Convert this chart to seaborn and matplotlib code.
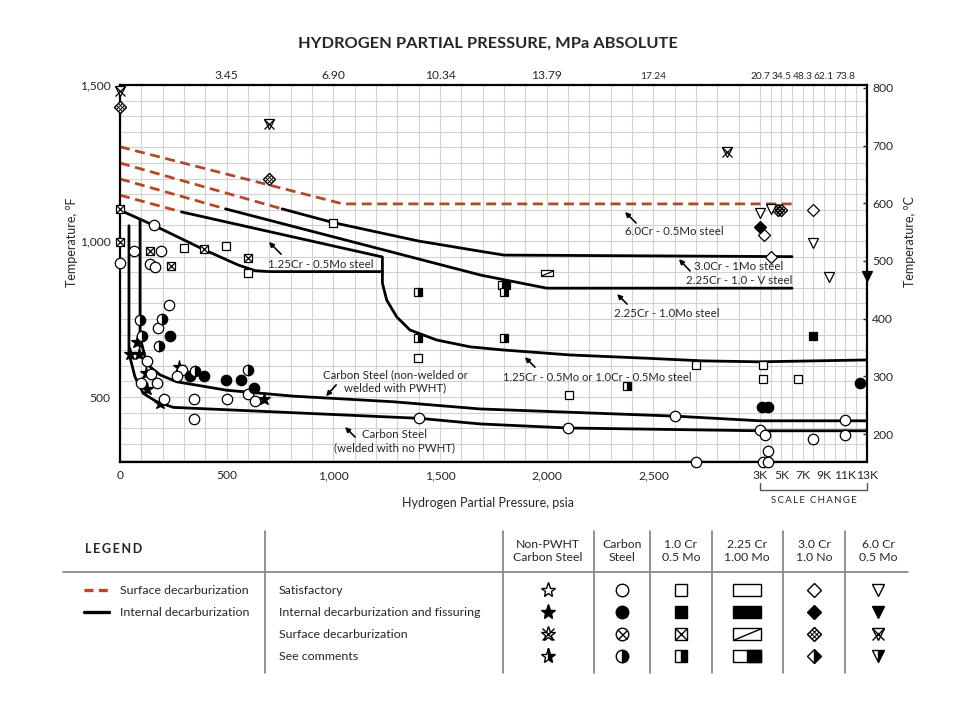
import numpy as np
import matplotlib
matplotlib.use("Agg")
import matplotlib.pyplot as plt
import seaborn as sns
from matplotlib.path import Path

# ---------------- curves: hydrogen partial pressure (psia) vs temperature (F)
surf1_psi = [0, 1045, 6000]
surf1_f = [1302, 1119, 1119]
surf2_psi = [0, 760]
surf2_f = [1250, 1103]
surf3_psi = [0, 495]
surf3_f = [1199, 1103]
surf4_psi = [0, 290]
surf4_f = [1147, 1093]

cr3_psi = [760, 1000, 1400, 1700, 1800, 6000]
cr3_f = [1103, 1059, 1000, 966, 955, 950]
cr225_psi = [495, 1690, 2000, 6000]
cr225_f = [1103, 891, 849, 849]
cr125_psi = [290, 1230, 1230, 1250, 1297, 1359, 1484, 1641, 1795, 2109, 2484, 2733, 3000, 13000]
cr125_f = [1093, 949, 865, 811, 757, 715, 683, 661, 651, 635, 624, 616, 613, 619]
cr1_psi = [0, 159, 398, 555, 633, 700, 1230]
cr1_f = [1099, 1050, 971, 923, 905, 902, 902]
cs_pwht_psi = [94, 94, 117, 141, 188, 266, 500, 812, 1281, 1688, 2602, 3000, 13000]
cs_pwht_f = [1067, 693, 629, 597, 571, 549, 522, 503, 485, 462, 439, 424, 424]
cs_weld_psi = [42, 42, 70, 109, 172, 250, 1402, 1688, 2100, 3000, 13000]
cs_weld_f = [1049, 641, 565, 512, 485, 467, 432, 414, 401, 392, 392]

# ---------------- data points
star_int_psi = [81, 47, 91, 120, 128, 188, 277, 675]
star_int_f = [677, 638, 638, 576, 526, 480, 595, 494]

circ_ok_psi = [0, 159, 66, 191, 141, 164, 231, 180, 128, 145, 97, 175, 205, 289, 266, 598, 634,
               345, 502, 347, 1402, 2100, 2602, 2699, 3000, 3250, 3470, 3720, 3720, 8000, 11000, 11000]
circ_ok_f = [930, 1050, 969, 969, 926, 916, 796, 720, 615, 573, 544, 546, 494, 587, 567, 511, 488,
             494, 494, 431, 432, 401, 439, 292, 396, 292, 378, 327, 292, 365, 426, 379]
circ_int_psi = [234, 328, 394, 497, 567, 630, 3220, 3780, 12380]
circ_int_f = [697, 567, 567, 555, 555, 529, 469, 469, 546]
circ_cmt_psi = [94, 198, 105, 184, 352, 598]
circ_cmt_f = [747, 749, 696, 664, 584, 587]

sq_ok_psi = [298, 497, 598, 998, 1398, 1789, 2103, 2700, 3300, 3300, 6600]
sq_ok_f = [977, 985, 898, 1059, 624, 860, 506, 603, 603, 559, 559]
sq_int_psi = [1809, 8000]
sq_int_f = [860, 697]
sq_surf_psi = [0, 0, 141, 237, 394, 598]
sq_surf_f = [1102, 998, 969, 921, 974, 947]
sq_cmt_psi = [1398, 1398, 1800, 1800, 2375]
sq_cmt_f = [836, 690, 836, 690, 536]

rect_surf_psi = [2000]
rect_surf_f = [898]

dia_ok_psi = [3400, 4000, 8000]
dia_ok_f = [1019, 948, 1099]
dia_int_psi = [3000]
dia_int_f = [1046]
dia_surf_psi = [0, 700, 4700, 5000]
dia_surf_f = [1430, 1198, 1099, 1099]

tri_ok_psi = [3000, 4000, 8000, 9500]
tri_ok_f = [1091, 1102, 993, 886]
tri_int_psi = [13000]
tri_int_f = [889]
tri_surf_psi = [0, 700, 2845]
tri_surf_f = [1482, 1374, 1284]

# ---------------- axis labels
x_ticks = [0, 500, 1000, 1500, 2000, 2500, 3000, 5000, 7000, 9000, 11000, 13000]
x_labels = ['0', '500', '1,000', '1,500', '2,000', '2,500', '3K', '5K', '7K', '9K', '11K', '13K']
top_ticks = [500, 1000, 1500, 2000, 2500, 3000, 5000, 7000, 9000, 11000]
top_labels = ['3.45', '6.90', '10.34', '13.79', '17.24', '20.7', '34.5', '48.3', '62.1', '73.8']
y_ticks = [500, 1000, 1500]
y_labels = ['500', '1,000', '1,500']
c_ticks = [200, 300, 400, 500, 600, 700, 800]

leg_cols = ['Non-PWHT\nCarbon Steel', 'Carbon\nSteel', '1.0 Cr\n0.5 Mo', '2.25 Cr\n1.00 Mo',
            '3.0 Cr\n1.0 No', '6.0 Cr\n0.5 Mo']
leg_shapes = ['star', 'circle', 'square', 'rect', 'diamond', 'tri']
leg_rows = ['Satisfactory', 'Internal decarburization and fissuring', 'Surface decarburization',
            'See comments']
leg_status = ['open', 'filled', 'surface', 'comments']

RED = '#b4492a'


def fwd(p):
    p = np.asarray(p, dtype=float)
    return np.where(p <= 3000, p, 3000 + (p - 3000) / 20.0)


def inv(u):
    u = np.asarray(u, dtype=float)
    return np.where(u <= 3000, u, 3000 + (u - 3000) * 20.0)


HATCH = Path([(0, 1), (1, 0), (0, -1), (-1, 0), (0, 1),
              (-2/3, -1/3), (1/3, 2/3), (-1/3, -2/3), (2/3, 1/3),
              (-2/3, 1/3), (1/3, -2/3), (-1/3, 2/3), (2/3, -1/3)],
             [Path.MOVETO, Path.LINETO, Path.LINETO, Path.LINETO, Path.LINETO,
              Path.MOVETO, Path.LINETO, Path.MOVETO, Path.LINETO,
              Path.MOVETO, Path.LINETO, Path.MOVETO, Path.LINETO])
RECT = Path([(-2.4, -1), (2.4, -1), (2.4, 1), (-2.4, 1), (-2.4, -1)], closed=True)
RECT_R = Path([(0, -1), (2.4, -1), (2.4, 1), (0, 1), (0, -1)], closed=True)
RECT_D = Path([(-2.4, -1), (2.4, 1)], [Path.MOVETO, Path.LINETO])
BASE = {'star': '*', 'circle': 'o', 'square': 's', 'diamond': 'D', 'tri': 'v'}
XSIZE = {'star': 0.85, 'circle': 0.72, 'square': 1.0, 'tri': 1.0}


def draw(a, xs, ys, shape, status, ms, mew=0.9):
    kw = dict(linestyle='none', markeredgecolor='black', clip_on=False, zorder=6)
    if shape == 'rect':
        a.plot(xs, ys, marker=RECT, ms=ms, mew=mew, mfc='black' if status == 'filled' else 'white', **kw)
        if status == 'surface':
            a.plot(xs, ys, marker=RECT_D, ms=ms, mew=mew, mfc='none', **kw)
        if status == 'comments':
            a.plot(xs, ys, marker=RECT_R, ms=ms, mew=mew, mfc='black', **kw)
        return
    m = BASE[shape]
    if status == 'comments':
        a.plot(xs, ys, marker=m, ms=ms, mew=mew, fillstyle='right', mfc='black', mfcalt='white', **kw)
    else:
        a.plot(xs, ys, marker=m, ms=ms, mew=mew, mfc='black' if status == 'filled' else 'white', **kw)
    if status == 'surface':
        if shape == 'diamond':
            a.plot(xs, ys, marker=HATCH, ms=ms * 1.414, mew=mew * 0.7, mfc='none', **kw)
        else:
            a.plot(xs, ys, marker='x', ms=ms * XSIZE[shape], mew=mew, **kw)


sns.set_style("white")
plt.rcParams['font.family'] = ['Lato', 'DejaVu Sans']

W, H = 977, 707
fig = plt.figure(figsize=(W / 100, H / 100), dpi=100)

# legend area drawn in pixel coordinates
ax_leg = fig.add_axes([0, 0, 1, 1])
ax_leg.set_xlim(0, W)
ax_leg.set_ylim(H, 0)
ax_leg.axis('off')

ax = fig.add_axes([120 / W, 1 - 462 / H, (866.7 - 120) / W, (462 - 85) / H])
ax.set_xscale('function', functions=(fwd, inv))
ax.set_xlim(0, 13000)
ax.set_ylim(292, 1500)

ax.set_xticks(x_ticks)
ax.set_xticklabels(x_labels)
ax.set_xticks(list(range(0, 3001, 100)) + list(range(4000, 13001, 1000)), minor=True)
ax.set_yticks(y_ticks)
ax.set_yticklabels(y_labels)
ax.set_yticks(list(range(300, 1501, 50)), minor=True)
ax.grid(which='both', color='#d2d2d2', lw=0.8)
ax.set_axisbelow(True)
ax.tick_params(which='both', length=0, labelsize=8.7)
ax.tick_params(axis='x', pad=6)
ax.tick_params(axis='y', pad=7)
for s in ax.spines.values():
    s.set_linewidth(1.6)
    s.set_color('black')

# curves
dash = (0, (3.6, 2.0))
for px, py in [(surf1_psi, surf1_f), (surf2_psi, surf2_f), (surf3_psi, surf3_f), (surf4_psi, surf4_f)]:
    sns.lineplot(x=px, y=py, ax=ax, sort=False, estimator=None, color=RED, lw=2.0, linestyle=dash)
for px, py in [(cr3_psi, cr3_f), (cr225_psi, cr225_f), (cr125_psi, cr125_f), (cr1_psi, cr1_f),
               (cs_pwht_psi, cs_pwht_f), (cs_weld_psi, cs_weld_f)]:
    sns.lineplot(x=px, y=py, ax=ax, sort=False, estimator=None, color='black', lw=2.0)
ax.set_xlabel('')
ax.set_ylabel('')

# points
draw(ax, star_int_psi, star_int_f, 'star', 'filled', 9.5)
draw(ax, circ_ok_psi, circ_ok_f, 'circle', 'open', 7.5)
draw(ax, circ_int_psi, circ_int_f, 'circle', 'filled', 7.5)
draw(ax, circ_cmt_psi, circ_cmt_f, 'circle', 'comments', 7.5)
draw(ax, sq_ok_psi, sq_ok_f, 'square', 'open', 6.3)
draw(ax, sq_int_psi, sq_int_f, 'square', 'filled', 6.3)
draw(ax, sq_surf_psi, sq_surf_f, 'square', 'surface', 6.3)
draw(ax, sq_cmt_psi, sq_cmt_f, 'square', 'comments', 6.3)
draw(ax, rect_surf_psi, rect_surf_f, 'rect', 'surface', 9)
draw(ax, dia_ok_psi, dia_ok_f, 'diamond', 'open', 6)
draw(ax, dia_int_psi, dia_int_f, 'diamond', 'filled', 6)
draw(ax, dia_surf_psi, dia_surf_f, 'diamond', 'surface', 6.2)
draw(ax, tri_ok_psi, tri_ok_f, 'tri', 'open', 7.5)
draw(ax, tri_int_psi, tri_int_f, 'tri', 'filled', 7.5)
draw(ax, tri_surf_psi, tri_surf_f, 'tri', 'surface', 7.5)

# curve labels
fs = 8.3
arrow = dict(arrowstyle='-|>', color='black', lw=1.2, mutation_scale=7, shrinkA=0, shrinkB=0)
ax.text(694, 926, '1.25Cr - 0.5Mo steel', fontsize=fs, va='center')
ax.annotate('', xy=(698, 997), xytext=(755, 958), arrowprops=arrow)
ax.text(2367, 1029, '6.0Cr - 0.5Mo steel', fontsize=fs, va='center')
ax.annotate('', xy=(2367, 1093), xytext=(2419, 1058), arrowprops=arrow)
ax.text(2691, 917, '3.0Cr - 1Mo steel', fontsize=fs, va='center')
ax.annotate('', xy=(2620, 942), xytext=(2672, 904), arrowprops=arrow)
ax.text(2653, 875, '2.25Cr - 1.0 - V steel', fontsize=fs, va='center')
ax.text(2316, 769, '2.25Cr - 1.0Mo steel', fontsize=fs, va='center')
ax.annotate('', xy=(2330, 830), xytext=(2377, 798), arrowprops=arrow)
ax.text(1795, 564, '1.25Cr - 0.5Mo or 1.0Cr - 0.5Mo steel', fontsize=8.1, va='center')
ax.annotate('', xy=(1898, 628), xytext=(1945, 596), arrowprops=arrow)
ax.text(1289, 551, 'Carbon Steel (non-welded or\nwelded with PWHT)', fontsize=fs, va='center',
        ha='center', multialignment='center', linespacing=1.25)
ax.annotate('', xy=(966, 503), xytext=(1013, 539), arrowprops=arrow)
ax.text(1289, 359, 'Carbon Steel\n(welded with no PWHT)', fontsize=fs, va='center',
        ha='center', multialignment='center', linespacing=1.25)
ax.annotate('', xy=(1055, 404), xytext=(1102, 372), arrowprops=arrow)

# scale change bracket
tr = ax.get_xaxis_transform()
ax.plot([3000, 3000, 13000, 13000], [-0.0557, -0.0743, -0.0743, -0.0557], transform=tr,
        color='#555555', lw=1.0, clip_on=False)
ax.text(8000, -0.101, '\u2009'.join('SCALE CHANGE'), transform=tr, ha='center', va='center',
        fontsize=7.0)

# top MPa axis
ax_top = ax.twiny()
ax_top.set_xscale('function', functions=(fwd, inv))
ax_top.set_xlim(0, 13000)
ax_top.set_xticks(top_ticks)
ax_top.set_xticklabels(top_labels)
ax_top.tick_params(length=0, pad=3, labelsize=8.7)
for lab, t in zip(ax_top.get_xticklabels(), top_ticks):
    if t >= 2500:
        lab.set_fontsize(7.3)
for s in ax_top.spines.values():
    s.set_visible(False)

# right Celsius axis
ax_r = ax.twinx()
ax_r.set_ylim(151.5, 805)
ax_r.set_yticks(c_ticks)
ax_r.set_yticklabels([str(c) for c in c_ticks])
ax_r.tick_params(direction='in', length=3, width=1, pad=4, labelsize=8.7)
for s in ax_r.spines.values():
    s.set_visible(False)

fig.text(488 / W, 1 - 44 / H, 'HYDROGEN PARTIAL PRESSURE, MPa ABSOLUTE', ha='center', va='center',
         fontsize=11.8, fontweight='bold')
fig.text(488 / W, 1 - 503 / H, 'Hydrogen Partial Pressure, psia', ha='center', va='center', fontsize=9)
fig.text(72 / W, 1 - 242 / H, 'Temperature, \u00b0F', ha='center', va='center', rotation=90, fontsize=9)
fig.text(910 / W, 1 - 242 / H, 'Temperature, \u00b0C', ha='center', va='center', rotation=90, fontsize=9)

# ---------------- legend table
col_x = [548, 622, 681, 747, 814, 878]
row_y = [590, 612, 634, 656]
sep_x = [265, 503, 594, 650, 712, 783, 845]
leg_ms = {'star': 11, 'circle': 9, 'square': 8.5, 'rect': 20, 'diamond': 7, 'tri': 9}

ax_leg.plot([63, 908], [572, 572], color='#808080', lw=1.2)
for sx in sep_x:
    ax_leg.plot([sx, sx], [531, 673], color='#808080', lw=1.2)
ax_leg.text(85, 549, '\u2009'.join('LEGEND'), fontsize=9, fontweight='bold', va='center')
for cx, name in zip(col_x, leg_cols):
    ax_leg.text(cx, 551, name, ha='center', va='center', fontsize=8.8, linespacing=1.15)
ax_leg.plot([84, 109], [590, 590], color=RED, lw=2.4, linestyle=(0, (2.7, 1.6)))
ax_leg.plot([84, 109], [612, 612], color='black', lw=2.4)
ax_leg.text(120, 590, 'Surface decarburization', fontsize=8.9, va='center')
ax_leg.text(120, 612, 'Internal decarburization', fontsize=8.9, va='center')
for ry, name, st in zip(row_y, leg_rows, leg_status):
    ax_leg.text(279, ry, name, fontsize=8.9, va='center')
    for cx, shp in zip(col_x, leg_shapes):
        draw(ax_leg, [cx], [ry], shp, st, leg_ms[shp], mew=1.0)

fig.savefig('out.png', dpi=100)
